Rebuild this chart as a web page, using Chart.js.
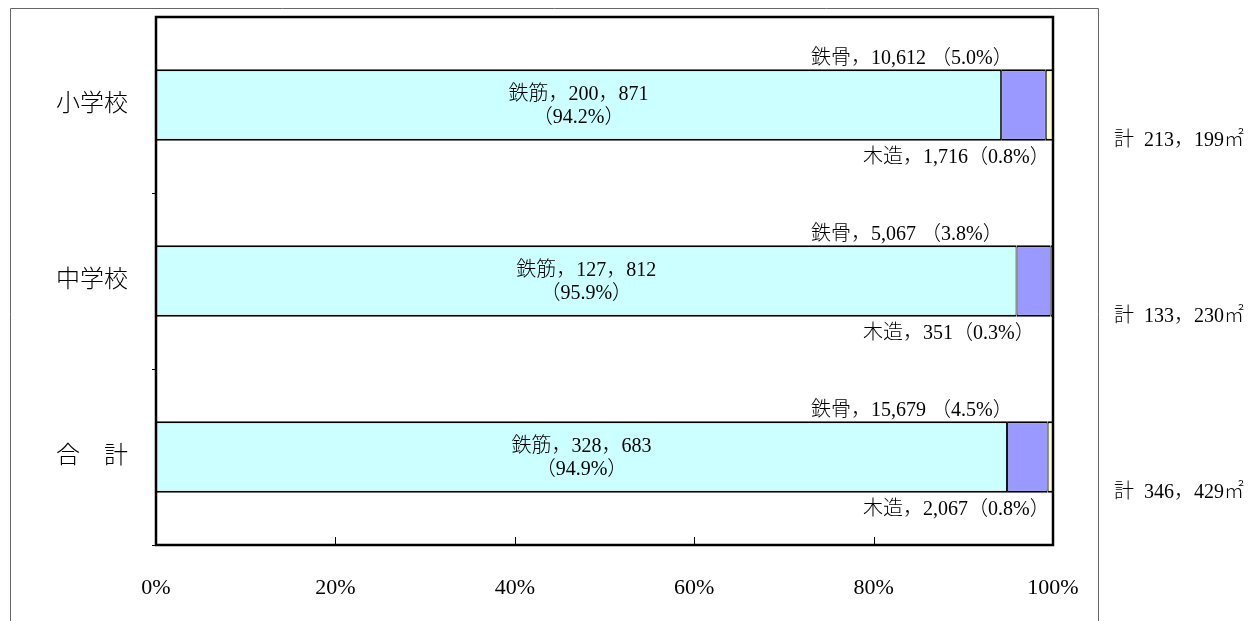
<!DOCTYPE html>
<html>
<head>
<meta charset="utf-8">
<script src="https://cdn.jsdelivr.net/npm/chart.js@4"></script>
<style>
  body { margin: 0; background: #fff; }
  #wrap { width: 1258px; height: 621px; position: relative; }
</style>
</head>
<body>
<div id="wrap"><canvas id="chart"></canvas></div>
<script>
// data
var categories = ['小学校', '中学校', '合　計'];
var rcValues = [200871, 127812, 328683];   // 鉄筋
var steelValues = [10612, 5067, 15679];    // 鉄骨
var woodValues = [1716, 351, 2067];        // 木造
var totals = [213199, 133230, 346429];
var rcPct = ['94.2', '95.9', '94.9'];
var steelPct = ['5.0', '3.8', '4.5'];
var woodPct = ['0.8', '0.3', '0.8'];
var xTicks = [0, 20, 40, 60, 80, 100];

var FONT = "'Liberation Serif', 'Noto Sans CJK JP', serif";

function fmt(n, sep) {
    return n.toLocaleString('en-US').replace(/,/g, sep);
}

function toPct(values) {
    return values.map(function (v, i) { return v / totals[i] * 100; });
}

var decorPlugin = {
    id: 'decor',
    beforeDraw: function (chart) {
        var ctx = chart.ctx;
        ctx.save();
        ctx.strokeStyle = '#666';
        ctx.lineWidth = 1;
        ctx.beginPath();
        ctx.moveTo(10.5, 621);
        ctx.lineTo(10.5, 8.5);
        ctx.lineTo(1098.5, 8.5);
        ctx.lineTo(1098.5, 621);
        ctx.stroke();
        ctx.restore();
    },
    afterDatasetsDraw: function (chart) {
        var ctx = chart.ctx;
        var area = chart.chartArea;
        var xs = chart.scales.x;
        ctx.save();

        // plot frame
        ctx.strokeStyle = '#000';
        ctx.lineWidth = 2.5;
        ctx.strokeRect(area.left, area.top, area.right - area.left, area.bottom - area.top);

        // inner ticks on the x axis
        ctx.lineWidth = 1;
        ctx.beginPath();
        xTicks.slice(1, -1).forEach(function (t) {
            var px = Math.round(xs.getPixelForValue(t)) + 0.5;
            ctx.moveTo(px, area.bottom - 8);
            ctx.lineTo(px, area.bottom);
        });
        ctx.stroke();

        ctx.fillStyle = '#000';
        ctx.textBaseline = 'middle';
        ctx.font = '300 20px ' + FONT;
        var meta = chart.getDatasetMeta(0);
        meta.data.forEach(function (bar, i) {
            var top = bar.y - bar.height / 2;
            var bottom = bar.y + bar.height / 2;
            var cx = (bar.x + bar.base) / 2;

            ctx.textAlign = 'center';
            ctx.fillText('鉄筋，' + fmt(rcValues[i], '，'), cx, bar.y - 10);
            ctx.fillText('（' + rcPct[i] + '%）', cx, bar.y + 13);

            ctx.textAlign = 'left';
            ctx.fillText('鉄骨，' + fmt(steelValues[i], ',') + ' （' + steelPct[i] + '%）',
                area.right - 242, top - 11);
            ctx.fillText('木造，' + fmt(woodValues[i], ',') + '（' + woodPct[i] + '%）',
                area.right - 190, bottom + 17);

            ctx.fillText('計  ' + fmt(totals[i], '，') + '㎡', area.right + 61, bottom);
        });
        ctx.restore();
    }
};

var ctx = document.getElementById('chart').getContext('2d');
var myChart = new Chart(ctx, {
    type: 'bar',
    data: {
        labels: categories,
        datasets: [{
            label: '鉄筋',
            data: toPct(rcValues),
            backgroundColor: '#CCFFFF'
        }, {
            label: '鉄骨',
            data: toPct(steelValues),
            backgroundColor: '#9999FF'
        }, {
            label: '木造',
            data: toPct(woodValues),
            backgroundColor: '#FFFFCC'
        }]
    },
    options: {
        indexAxis: 'y',
        responsive: true,
        maintainAspectRatio: false,
        animation: false,
        layout: { padding: { top: 17, right: 205, left: 0, bottom: 0 } },
        datasets: {
            bar: {
                borderColor: '#000',
                borderWidth: { top: 2, bottom: 2, left: 1, right: 1 },
                borderSkipped: false,
                barPercentage: 0.405,
                categoryPercentage: 1
            }
        },
        plugins: {
            legend: { display: false },
            tooltip: { enabled: false }
        },
        scales: {
            x: {
                stacked: true,
                min: 0,
                max: 100,
                afterBuildTicks: function (scale) {
                    scale.ticks = xTicks.map(function (v) { return { value: v }; });
                },
                afterFit: function (scale) {
                    scale.height = 76;
                    scale.paddingLeft = 0;
                    scale.paddingRight = 0;
                },
                grid: { display: false },
                border: { display: false },
                ticks: {
                    padding: 22,
                    color: '#000',
                    maxRotation: 0,
                    font: { family: FONT, size: 22 },
                    callback: function (v) { return v + '%'; }
                }
            },
            y: {
                stacked: true,
                afterFit: function (scale) {
                    scale.width = 156;
                    scale.paddingTop = 0;
                    scale.paddingBottom = 0;
                },
                grid: {
                    display: true,
                    drawOnChartArea: false,
                    drawTicks: true,
                    tickLength: 4,
                    color: function (c) {
                        // only the inner separators get a tick mark
                        return (c.index === 0 || c.index >= categories.length) ? 'rgba(0,0,0,0)' : '#000';
                    },
                    offset: true
                },
                border: { display: false },
                ticks: {
                    padding: 24,
                    color: '#000',
                    font: { family: FONT, size: 24, weight: '300' }
                }
            }
        }
    },
    plugins: [decorPlugin]
});
</script>
</body>
</html>
